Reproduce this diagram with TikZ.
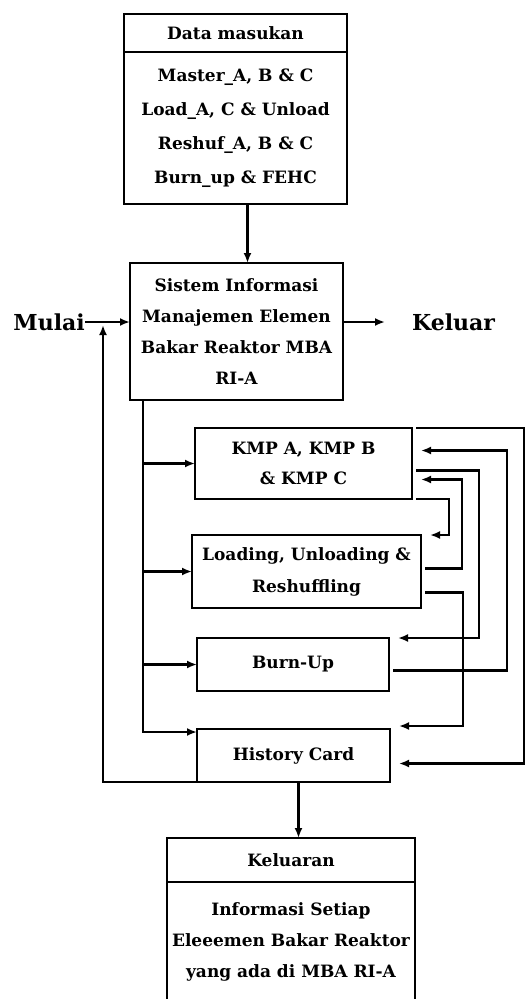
\documentclass[tikz,border=0pt]{standalone}
\usepackage{fontspec}
\setmainfont{DejaVu Serif}
\usetikzlibrary{arrows.meta,positioning}

\begin{document}
\begin{tikzpicture}[
  x=1pt, y=-1pt,
  font=\bfseries\fontsize{17}{32}\selectfont,
  box/.style={draw, line width=2.4pt, align=center, inner sep=2pt, outer sep=0pt},
  arr/.style={-{Latex[length=10pt,width=8pt]}, line width=2.4pt},
  rarr/.style={arr, shorten <=4pt, shorten >=9pt},
  big/.style={font=\bfseries\fontsize{22}{26}\selectfont, inner sep=0pt}
]
\useasboundingbox (0,0) rectangle (528,999);

% input and main system
\node[box, minimum width=223pt, minimum height=38pt] (dmhead) at (235.5,33) {Data masukan};
\node[box, below=0pt of dmhead, minimum width=223pt, minimum height=152pt, font=\bfseries\fontsize{17}{34}\selectfont] (dmbody) {Master\_A, B \& C\\Load\_A, C \& Unload\\Reshuf\_A, B \& C\\Burn\_up \& FEHC};
\node[box, minimum width=213pt, minimum height=137pt, font=\bfseries\fontsize{17}{31}\selectfont] (sim) at (236.5,331.5) {Sistem Informasi\\Manajemen Elemen\\Bakar Reaktor MBA\\RI-A};
\node[big, anchor=east] (mulai) at (85,322) {Mulai};
\node[big, anchor=west] (keluar) at (412,322) {Keluar};

% modules
\node[box, minimum width=217pt, minimum height=71pt, font=\bfseries\fontsize{17}{30}\selectfont] (kmp) at (303.5,463.5) {KMP A, KMP B\\\& KMP C};
\node[box, minimum width=229pt, minimum height=73pt] (load) at (306.5,571.5) {Loading, Unloading \&\\Reshuffling};
\node[box, minimum width=192pt, minimum height=53pt] (burn) at (293,664.5) {Burn-Up};
\node[box, minimum width=193pt, minimum height=53pt] (hist) at (293.5,755.5) {History Card};

% output
\node[box, minimum width=248pt, minimum height=44pt] (kelhead) at (291,860) {Keluaran};
\node[box, below=0pt of kelhead, minimum width=248pt, minimum height=120pt, font=\bfseries\fontsize{17}{31}\selectfont] (kelbody) {Informasi Setiap\\Eleeemen Bakar Reaktor\\yang ada di MBA RI-A};

\draw[arr] ([xshift=12pt]dmbody.south) -- ([xshift=12pt]dmbody.south |- sim.north);
\draw[arr] (mulai.east) -- (sim.west |- mulai.east);
\draw[arr, shorten >=27pt] (sim.east |- keluar.west) -- (keluar.west);

% left bus
\draw[arr] ([xshift=13pt]sim.south west) |- ([yshift=-3pt]hist.north west);
\foreach \n in {kmp,load,burn}
  \draw[arr] ([xshift=13pt]sim.south west |- \n.west) -- (\n.west);
\draw[arr, shorten >=3pt] (hist.south west) -| ([xshift=18pt]mulai.east);
\draw[arr] ([xshift=5pt]hist.south) -- ([xshift=5pt]hist.south |- kelhead.north);

% right loops
\draw[rarr] (kmp.north east) -- ++(112,0) |- ([yshift=-8pt]hist.east);
\draw[rarr] ([yshift=-7pt]kmp.east) -- ++(67,0) |- (burn.north east);
\draw[rarr] (kmp.south east) -- ++(37,0) |- (load.north east);
\draw[rarr] ([yshift=3pt]load.east) -- ++(41,0) |- ([yshift=-16pt]kmp.east);
\draw[rarr] ([yshift=-21pt]load.east) -- ++(42,0) |- ([yshift=3pt]hist.north east);
\draw[rarr] ([yshift=-6pt]burn.east) -- ++(118,0) |- ([yshift=13pt]kmp.east);
\end{tikzpicture}
\end{document}
